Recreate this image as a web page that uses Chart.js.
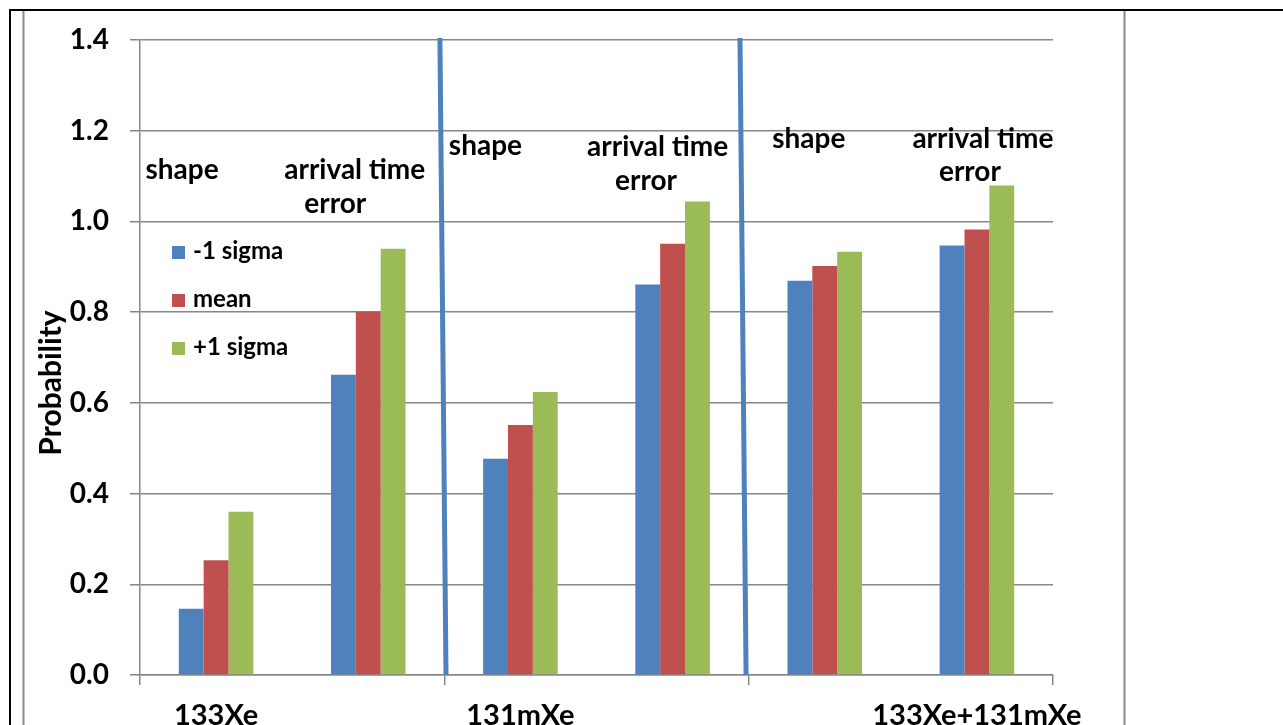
<!DOCTYPE html>
<html>
<head>
<meta charset="utf-8">
<script src="https://cdn.jsdelivr.net/npm/chart.js@4.4.1/dist/chart.umd.min.js"></script>
<style>
  html, body { margin: 0; padding: 0; background: #ffffff; }
  #wrap { position: relative; width: 1283px; height: 725px; overflow: hidden; }
  canvas { display: block; }
</style>
</head>
<body>
<div id="wrap"><canvas id="chart" width="1283" height="725"></canvas></div>
<script>
// Categories: shape / arrival time error for each isotope set
const categories = ['133Xe', '', '131mXe', '', '', '133Xe+131mXe'];
const minusSigma = [0.146, 0.662, 0.477, 0.861, 0.869, 0.947];
const meanValues = [0.253, 0.801, 0.551, 0.951, 0.902, 0.982];
const plusSigma  = [0.360, 0.940, 0.624, 1.044, 0.933, 1.079];
const seriesNames = ['-1 sigma', 'mean', '+1 sigma'];
const yTicks = [0.0, 0.2, 0.4, 0.6, 0.8, 1.0, 1.2, 1.4];
const yTitle = 'Probability';

// Text notes above each bar group (category index, pixel nudge, y value of baseline)
const groupNotes = [
  { cat: 0, dx: -34,   y: 1.094, text: 'shape' },
  { cat: 1, dx: -13.5, y: 1.094, text: 'arrival time' },
  { cat: 1, dx: -33,   y: 1.019, text: 'error' },
  { cat: 2, dx: -35,   y: 1.147, text: 'shape' },
  { cat: 3, dx: -15,   y: 1.145, text: 'arrival time' },
  { cat: 3, dx: -26.5, y: 1.070, text: 'error' },
  { cat: 4, dx: -16,   y: 1.161, text: 'shape' },
  { cat: 5, dx: 6,     y: 1.162, text: 'arrival time' },
  { cat: 5, dx: -7,    y: 1.090, text: 'error' }
];

// Slanted divider strokes between isotope sets (category-axis positions, top and bottom)
const dividers = [
  { top: 1.471, bottom: 1.511 },
  { top: 3.443, bottom: 3.483 }
];

const colors = ['#4f81bd', '#c0504d', '#9bbb59'];
const axisGray = '#878787';
const FONT = 'Lato, "Open Sans", sans-serif';

Chart.defaults.font.family = FONT;
Chart.defaults.font.weight = 'bold';
Chart.defaults.color = '#000000';

const framePlugin = {
  id: 'frame',
  beforeDraw(chart) {
    const ctx = chart.ctx;
    ctx.save();
    ctx.fillStyle = '#ffffff';
    ctx.fillRect(0, 0, chart.width, chart.height);
    // outer black border (top and left)
    ctx.strokeStyle = '#000000';
    ctx.lineWidth = 2;
    ctx.beginPath();
    ctx.moveTo(9, 10); ctx.lineTo(chart.width, 10);
    ctx.moveTo(10, 9); ctx.lineTo(10, chart.height);
    ctx.stroke();
    // inner gray cell borders
    ctx.strokeStyle = '#8a8a8a';
    ctx.lineWidth = 2;
    ctx.beginPath();
    ctx.moveTo(23.5, 11); ctx.lineTo(23.5, chart.height);
    ctx.moveTo(1124.5, 11); ctx.lineTo(1124.5, chart.height);
    ctx.stroke();
    ctx.restore();
  }
};

const overlayPlugin = {
  id: 'overlay',
  afterDatasetsDraw(chart) {
    const ctx = chart.ctx;
    const xs = chart.scales.x;
    const ys = chart.scales.y;
    ctx.save();

    // divider strokes
    ctx.strokeStyle = colors[0];
    ctx.lineWidth = 5;
    dividers.forEach(d => {
      ctx.beginPath();
      ctx.moveTo(xs.getPixelForValue(d.top), ys.getPixelForValue(ys.max) - 2);
      ctx.lineTo(xs.getPixelForValue(d.bottom), ys.getPixelForValue(0));
      ctx.stroke();
    });

    // group notes
    ctx.fillStyle = '#000000';
    ctx.font = 'bold 28px ' + FONT;
    ctx.textAlign = 'center';
    ctx.textBaseline = 'alphabetic';
    groupNotes.forEach(n => {
      ctx.fillText(n.text, xs.getPixelForValue(n.cat) + n.dx, ys.getPixelForValue(n.y));
    });

    // legend inside the plot
    ctx.font = 'bold 24px ' + FONT;
    ctx.textAlign = 'left';
    chart.data.datasets.forEach((ds, i) => {
      const base = 259 + i * 48;
      ctx.fillStyle = ds.backgroundColor;
      ctx.fillRect(172, base - 13, 13, 13);
      ctx.fillStyle = '#000000';
      ctx.fillText(ds.label, 193, base);
    });

    // y axis title
    ctx.font = 'bold 30px ' + FONT;
    ctx.textAlign = 'center';
    ctx.textBaseline = 'middle';
    ctx.translate(51, 383);
    ctx.rotate(-Math.PI / 2);
    ctx.fillText(yTitle, 0, 0);

    ctx.restore();
  }
};

new Chart(document.getElementById('chart'), {
  type: 'bar',
  data: {
    labels: categories,
    datasets: [
      { label: seriesNames[0], data: minusSigma, backgroundColor: colors[0] },
      { label: seriesNames[1], data: meanValues, backgroundColor: colors[1] },
      { label: seriesNames[2], data: plusSigma,  backgroundColor: colors[2] }
    ]
  },
  options: {
    responsive: false,
    animation: false,
    events: [],
    layout: { padding: { top: 40, right: 230, left: 0, bottom: 0 } },
    datasets: {
      bar: { categoryPercentage: 0.49, barPercentage: 1.0, borderWidth: 0 }
    },
    plugins: {
      legend: { display: false },
      tooltip: { enabled: false },
      title: { display: false }
    },
    scales: {
      x: {
        offset: true,
        afterFit(scale) { scale.height = 50; },
        grid: {
          display: true,
          offset: true,
          drawOnChartArea: false,
          drawTicks: true,
          tickLength: 10,
          lineWidth: 1.5,
          color: ctx => (ctx.index === undefined || ctx.index % 2 === 0) ? axisGray : 'rgba(0,0,0,0)'
        },
        border: { display: true, color: axisGray, width: 1.5 },
        ticks: {
          autoSkip: false,
          maxRotation: 0,
          minRotation: 0,
          padding: 13,
          font: { size: 29, weight: 'bold' },
          color: '#000000'
        }
      },
      y: {
        min: 0,
        max: 1.4,
        afterFit(scale) { scale.width = 140; },
        afterBuildTicks(scale) { scale.ticks = yTicks.map(v => ({ value: v })); },
        grid: {
          display: true,
          drawTicks: true,
          tickLength: 10,
          lineWidth: 1.5,
          color: axisGray
        },
        border: { display: true, color: axisGray, width: 1.5 },
        ticks: {
          padding: 21,
          font: { size: 28, weight: 'bold' },
          color: '#000000',
          callback: v => Number(v).toFixed(1)
        }
      }
    }
  },
  plugins: [framePlugin, overlayPlugin]
});
</script>
</body>
</html>
